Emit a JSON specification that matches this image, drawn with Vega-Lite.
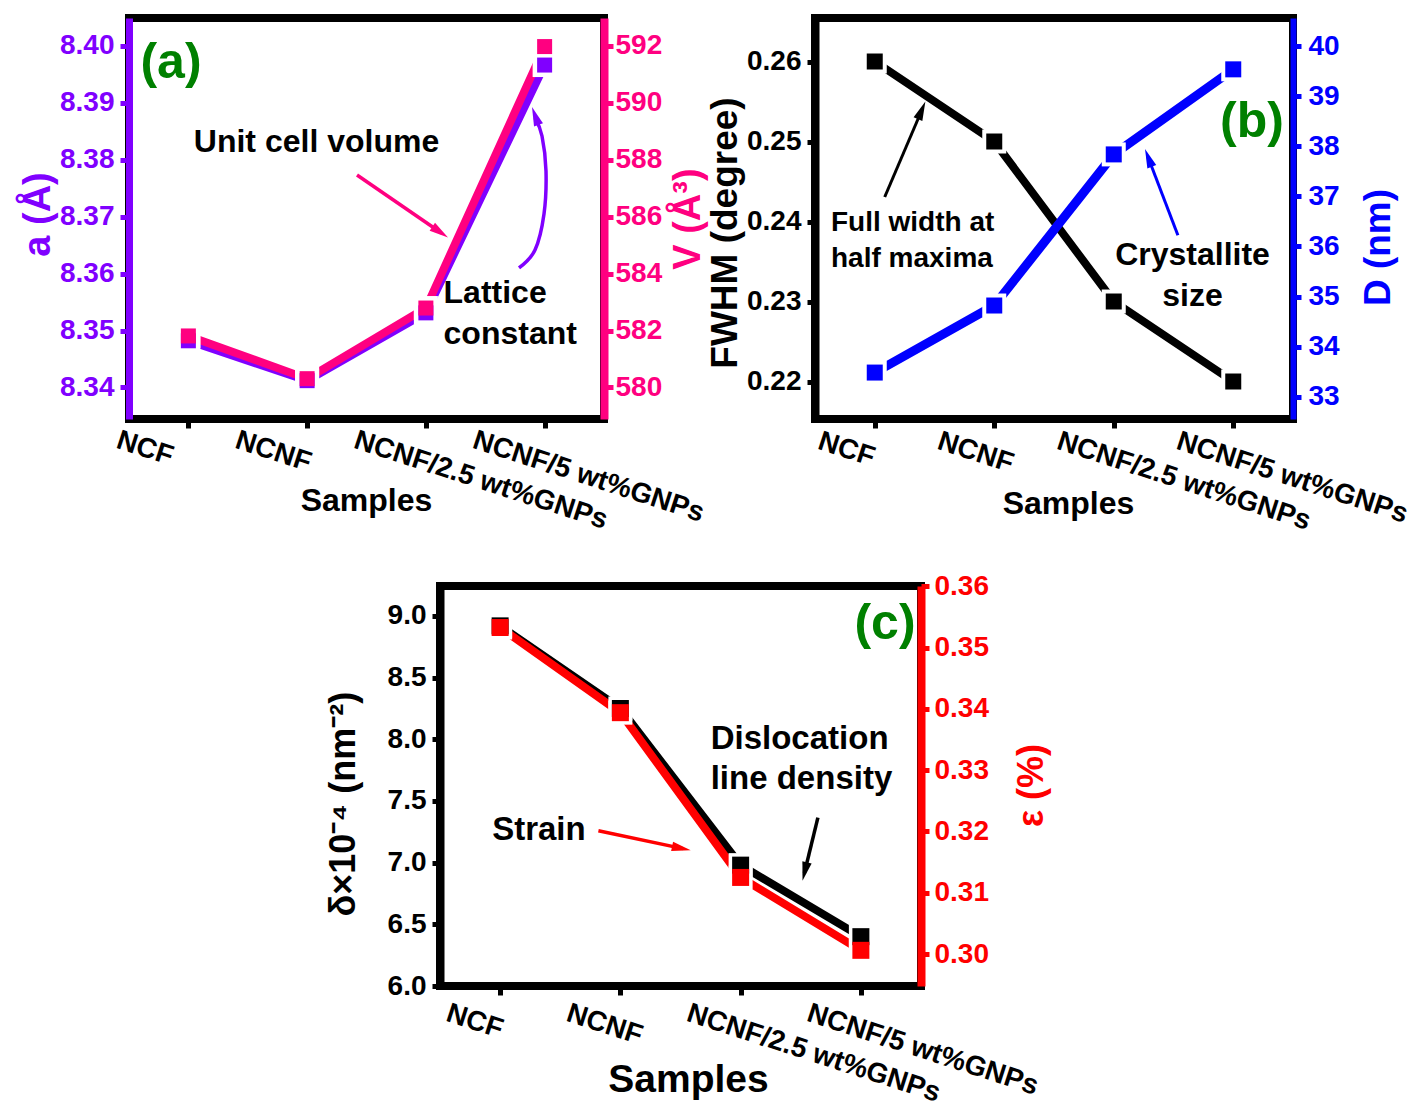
{
  "$schema": "https://vega.github.io/schema/vega-lite/v6.json",
  "background": "white",
  "padding": {"left": 15, "top": 14, "right": 5, "bottom": 5},
  "config": {
    "view": {"stroke": null},
    "font": "Liberation Sans",
    "axis": {"labelFont": "Liberation Sans", "titleFont": "Liberation Sans", "labelFontWeight": "bold", "titleFontWeight": "bold", "grid": false},
    "text": {"font": "Liberation Sans", "fontWeight": "bold"}
  },
  "datasets": {
    "pa": [
      {"sample": "NCF", "pos": 0, "a": 8.3482, "V": 581.81},
      {"sample": "NCNF", "pos": 1, "a": 8.3412, "V": 580.31},
      {"sample": "NCNF/2.5 wt%GNPs", "pos": 2, "a": 8.3531, "V": 582.79},
      {"sample": "NCNF/5 wt%GNPs", "pos": 3, "a": 8.3966, "V": 591.97}
    ],
    "pb": [
      {"sample": "NCF", "pos": 0, "FWHM": 0.26, "D": 33.48},
      {"sample": "NCNF", "pos": 1, "FWHM": 0.25, "D": 34.82},
      {"sample": "NCNF/2.5 wt%GNPs", "pos": 2, "FWHM": 0.23, "D": 37.84},
      {"sample": "NCNF/5 wt%GNPs", "pos": 3, "FWHM": 0.22, "D": 39.54}
    ],
    "pc": [
      {"sample": "NCF", "pos": 0, "delta": 8.92, "strain": 0.3533},
      {"sample": "NCNF", "pos": 1, "delta": 8.25, "strain": 0.3394},
      {"sample": "NCNF/2.5 wt%GNPs", "pos": 2, "delta": 6.98, "strain": 0.3125},
      {"sample": "NCNF/5 wt%GNPs", "pos": 3, "delta": 6.40, "strain": 0.3006}
    ],
    "curve_a": [
      {"i": 0, "x": 2.7842, "y": 8.36098},
      {"i": 1, "x": 2.9189, "y": 8.36414},
      {"i": 2, "x": 2.9947, "y": 8.37046},
      {"i": 3, "x": 3.0116, "y": 8.37801},
      {"i": 4, "x": 2.9779, "y": 8.38415},
      {"i": 5, "x": 2.9189, "y": 8.38731}
    ]
  },
  "bounds": "flush",
  "spacing": 568,
  "vconcat": [
    {
      "bounds": "flush",
      "spacing": 211,
      "hconcat": [
        {
          "width": 475,
          "height": 401,
          "view": {"stroke": "black", "strokeWidth": 8},
          "data": {"name": "pa"},
          "resolve": {"scale": {"y": "independent"}, "axis": {"y": "independent"}},
          "layer": [
            {
              "mark": {"type": "line", "color": "#8000ff", "strokeWidth": 8},
              "encoding": {
                "x": {"field": "pos", "type": "quantitative", "scale": {"domain": [-0.5, 3.5], "nice": false, "zero": false},
                  "axis": {"values": [0, 1, 2, 3], "labelExpr": "['NCF','NCNF','NCNF/2.5 wt%GNPs','NCNF/5 wt%GNPs'][datum.value]", "title": "Samples", "titleFontSize": 32, "titleX": 237, "titleY": 81, "titleAlign": "center", "titleBaseline": "middle", "titleColor": "black", "labelAngle": 18, "labelAlign": "left", "labelBaseline": "top", "labelOffset": -67, "labelPadding": -2, "labelLimit": 0, "labelFontSize": 28, "labelColor": "black", "labelFlush": false, "labelOverlap": false, "labelBound": false, "tickSize": 9, "tickWidth": 5, "tickColor": "black", "domain": false}},
                "y": {"field": "a", "type": "quantitative", "scale": {"domain": [8.33447, 8.40486], "nice": false, "zero": false},
                  "axis": {"orient": "left", "values": [8.34, 8.35, 8.36, 8.37, 8.38, 8.39, 8.40], "format": ".2f", "title": "a (Å)", "titleFontSize": 38, "titleX": -90.6, "titleY": 196, "titleAngle": 270, "titleAlign": "center", "titleBaseline": "middle", "titleColor": "#8000ff", "labelColor": "#8000ff", "labelFontSize": 28, "labelPadding": 6, "tickColor": "#8000ff", "tickSize": 9, "tickWidth": 5, "domainColor": "#8000ff", "domainWidth": 7}}
              }
            },
            {
              "mark": {"type": "line", "color": "#ff0080", "strokeWidth": 8},
              "encoding": {
                "x": {"field": "pos", "type": "quantitative", "scale": {"domain": [-0.5, 3.5], "nice": false, "zero": false}},
                "y": {"field": "V", "type": "quantitative", "scale": {"domain": [578.894, 592.973], "nice": false, "zero": false},
                  "axis": {"orient": "right", "values": [580, 582, 584, 586, 588, 590, 592], "format": "d", "title": "V (Å³)", "titleFontSize": 38, "titleX": 84, "titleY": 200.6, "titleAngle": 270, "titleAlign": "center", "titleBaseline": "middle", "titleColor": "#ff0080", "labelColor": "#ff0080", "labelFontSize": 28, "labelPadding": 2, "tickColor": "#ff0080", "tickSize": 9, "tickWidth": 5, "domainColor": "#ff0080", "domainWidth": 8}}
              }
            },
            {
              "mark": {"type": "point", "shape": "square", "filled": true, "opacity": 1, "color": "white", "size": 576},
              "encoding": {
                "x": {"field": "pos", "type": "quantitative", "scale": {"domain": [-0.5, 3.5], "nice": false, "zero": false}},
                "y": {"field": "a", "type": "quantitative", "scale": {"domain": [8.33447, 8.40486], "nice": false, "zero": false}, "axis": null}
              }
            },
            {
              "mark": {"type": "point", "shape": "square", "filled": true, "opacity": 1, "color": "white", "size": 576},
              "encoding": {
                "x": {"field": "pos", "type": "quantitative", "scale": {"domain": [-0.5, 3.5], "nice": false, "zero": false}},
                "y": {"field": "V", "type": "quantitative", "scale": {"domain": [578.894, 592.973], "nice": false, "zero": false}, "axis": null}
              }
            },
            {
              "mark": {"type": "point", "shape": "square", "filled": true, "opacity": 1, "color": "#8000ff", "size": 225},
              "encoding": {
                "x": {"field": "pos", "type": "quantitative", "scale": {"domain": [-0.5, 3.5], "nice": false, "zero": false}},
                "y": {"field": "a", "type": "quantitative", "scale": {"domain": [8.33447, 8.40486], "nice": false, "zero": false}, "axis": null}
              }
            },
            {
              "mark": {"type": "point", "shape": "square", "filled": true, "opacity": 1, "color": "#ff0080", "size": 225},
              "encoding": {
                "x": {"field": "pos", "type": "quantitative", "scale": {"domain": [-0.5, 3.5], "nice": false, "zero": false}},
                "y": {"field": "V", "type": "quantitative", "scale": {"domain": [578.894, 592.973], "nice": false, "zero": false}, "axis": null}
              }
            },
            {
              "data": {"values": [{}]},
              "mark": {"type": "text", "text": "(a)", "color": "#008000", "fontSize": 50, "align": "center", "baseline": "middle"},
              "encoding": {
                "x": {"datum": -0.1463, "type": "quantitative", "scale": {"domain": [-0.5, 3.5], "nice": false, "zero": false}},
                "y": {"datum": 8.39696, "type": "quantitative", "scale": {"domain": [8.33447, 8.40486], "nice": false, "zero": false}, "axis": null}
              }
            },
            {
              "data": {"values": [{}]},
              "mark": {"type": "text", "text": "Unit cell volume", "color": "black", "fontSize": 32, "align": "center", "baseline": "middle"},
              "encoding": {
                "x": {"datum": 1.0789, "type": "quantitative", "scale": {"domain": [-0.5, 3.5], "nice": false, "zero": false}},
                "y": {"datum": 8.3831, "type": "quantitative", "scale": {"domain": [8.33447, 8.40486], "nice": false, "zero": false}, "axis": null}
              }
            },
            {
              "data": {"values": [{}]},
              "mark": {"type": "text", "text": ["Lattice", "constant"], "lineHeight": 41, "color": "black", "fontSize": 32, "align": "left", "baseline": "middle"},
              "encoding": {
                "x": {"datum": 2.149, "type": "quantitative", "scale": {"domain": [-0.5, 3.5], "nice": false, "zero": false}},
                "y": {"datum": 8.35659, "type": "quantitative", "scale": {"domain": [8.33447, 8.40486], "nice": false, "zero": false}, "axis": null}
              }
            },
            {
              "data": {"values": [{}]},
              "mark": {"type": "rule", "color": "#ff0080", "strokeWidth": 3.5},
              "encoding": {
                "x": {"datum": 1.42, "type": "quantitative", "scale": {"domain": [-0.5, 3.5], "nice": false, "zero": false}},
                "x2": {"datum": 2.1307},
                "y": {"datum": 8.3773, "type": "quantitative", "scale": {"domain": [8.33447, 8.40486], "nice": false, "zero": false}, "axis": null},
                "y2": {"datum": 8.36712}
              }
            },
            {
              "data": {"values": [{}]},
              "mark": {"type": "point", "shape": "M0,0L-0.5,2L0.5,2Z", "filled": true, "opacity": 1, "color": "#ff0080", "size": 361, "angle": 124.5},
              "encoding": {
                "x": {"datum": 2.1863, "type": "quantitative", "scale": {"domain": [-0.5, 3.5], "nice": false, "zero": false}},
                "y": {"datum": 8.36633, "type": "quantitative", "scale": {"domain": [8.33447, 8.40486], "nice": false, "zero": false}, "axis": null}
              }
            },
            {
              "data": {"name": "curve_a"},
              "mark": {"type": "line", "color": "#8000ff", "strokeWidth": 3.5, "interpolate": "cardinal"},
              "encoding": {
                "x": {"field": "x", "type": "quantitative", "scale": {"domain": [-0.5, 3.5], "nice": false, "zero": false}},
                "y": {"field": "y", "type": "quantitative", "scale": {"domain": [8.33447, 8.40486], "nice": false, "zero": false}, "axis": null},
                "order": {"field": "i", "type": "quantitative"}
              }
            },
            {
              "data": {"values": [{}]},
              "mark": {"type": "point", "shape": "M0,0L-0.5,2L0.5,2Z", "filled": true, "opacity": 1, "color": "#8000ff", "size": 361, "angle": -20},
              "encoding": {
                "x": {"datum": 2.8937, "type": "quantitative", "scale": {"domain": [-0.5, 3.5], "nice": false, "zero": false}},
                "y": {"datum": 8.38924, "type": "quantitative", "scale": {"domain": [8.33447, 8.40486], "nice": false, "zero": false}, "axis": null}
              }
            }
          ]
        },
        {
          "width": 478,
          "height": 401,
          "view": {"stroke": "black", "strokeWidth": 8},
          "data": {"name": "pb"},
          "resolve": {"scale": {"y": "independent"}, "axis": {"y": "independent"}},
          "layer": [
            {
              "mark": {"type": "line", "color": "black", "strokeWidth": 8},
              "encoding": {
                "x": {"field": "pos", "type": "quantitative", "scale": {"domain": [-0.5, 3.5], "nice": false, "zero": false},
                  "axis": {"values": [0, 1, 2, 3], "labelExpr": "['NCF','NCNF','NCNF/2.5 wt%GNPs','NCNF/5 wt%GNPs'][datum.value]", "title": "Samples", "titleFontSize": 32, "titleX": 253, "titleY": 84, "titleAlign": "center", "titleBaseline": "middle", "titleColor": "black", "labelAngle": 18, "labelAlign": "left", "labelBaseline": "top", "labelOffset": -52, "labelPadding": -1, "labelLimit": 0, "labelFontSize": 28, "labelColor": "black", "labelFlush": false, "labelOverlap": false, "labelBound": false, "tickSize": 9, "tickWidth": 5, "tickColor": "black", "domain": false}},
                "y": {"field": "FWHM", "type": "quantitative", "scale": {"domain": [0.215313, 0.265438], "nice": false, "zero": false},
                  "axis": {"orient": "left", "values": [0.22, 0.23, 0.24, 0.25, 0.26], "format": ".2f", "title": "FWHM (degree)", "titleFontSize": 37, "titleX": -90, "titleY": 214.5, "titleAngle": 270, "titleAlign": "center", "titleBaseline": "middle", "titleColor": "black", "labelColor": "black", "labelFontSize": 28, "labelPadding": 6, "tickColor": "black", "tickSize": 8, "tickWidth": 5, "domainColor": "black", "domainWidth": 8}}
              }
            },
            {
              "mark": {"type": "line", "color": "#0000ff", "strokeWidth": 9},
              "encoding": {
                "x": {"field": "pos", "type": "quantitative", "scale": {"domain": [-0.5, 3.5], "nice": false, "zero": false}},
                "y": {"field": "D", "type": "quantitative", "scale": {"domain": [32.552, 40.566], "nice": false, "zero": false},
                  "axis": {"orient": "right", "values": [33, 34, 35, 36, 37, 38, 39, 40], "format": "d", "title": "D (nm)", "titleFontSize": 37, "titleX": 85, "titleY": 229, "titleAngle": 270, "titleAlign": "center", "titleBaseline": "middle", "titleColor": "#0000ff", "labelColor": "#0000ff", "labelFontSize": 28, "labelPadding": 7, "tickColor": "#0000ff", "tickSize": 8, "tickWidth": 5, "domainColor": "#0000ff", "domainWidth": 6}}
              }
            },
            {
              "mark": {"type": "point", "shape": "square", "filled": true, "opacity": 1, "color": "white", "size": 576},
              "encoding": {
                "x": {"field": "pos", "type": "quantitative", "scale": {"domain": [-0.5, 3.5], "nice": false, "zero": false}},
                "y": {"field": "FWHM", "type": "quantitative", "scale": {"domain": [0.215313, 0.265438], "nice": false, "zero": false}, "axis": null}
              }
            },
            {
              "mark": {"type": "point", "shape": "square", "filled": true, "opacity": 1, "color": "white", "size": 576},
              "encoding": {
                "x": {"field": "pos", "type": "quantitative", "scale": {"domain": [-0.5, 3.5], "nice": false, "zero": false}},
                "y": {"field": "D", "type": "quantitative", "scale": {"domain": [32.552, 40.566], "nice": false, "zero": false}, "axis": null}
              }
            },
            {
              "mark": {"type": "point", "shape": "square", "filled": true, "opacity": 1, "color": "black", "size": 256},
              "encoding": {
                "x": {"field": "pos", "type": "quantitative", "scale": {"domain": [-0.5, 3.5], "nice": false, "zero": false}},
                "y": {"field": "FWHM", "type": "quantitative", "scale": {"domain": [0.215313, 0.265438], "nice": false, "zero": false}, "axis": null}
              }
            },
            {
              "mark": {"type": "point", "shape": "square", "filled": true, "opacity": 1, "color": "#0000ff", "size": 256},
              "encoding": {
                "x": {"field": "pos", "type": "quantitative", "scale": {"domain": [-0.5, 3.5], "nice": false, "zero": false}},
                "y": {"field": "D", "type": "quantitative", "scale": {"domain": [32.552, 40.566], "nice": false, "zero": false}, "axis": null}
              }
            },
            {
              "data": {"values": [{}]},
              "mark": {"type": "text", "text": "(b)", "color": "#008000", "fontSize": 50, "align": "center", "baseline": "middle"},
              "encoding": {
                "x": {"datum": 3.1569, "type": "quantitative", "scale": {"domain": [-0.5, 3.5], "nice": false, "zero": false}},
                "y": {"datum": 0.25244, "type": "quantitative", "scale": {"domain": [0.215313, 0.265438], "nice": false, "zero": false}, "axis": null}
              }
            },
            {
              "data": {"values": [{}]},
              "mark": {"type": "text", "text": ["Full width at", "half maxima"], "lineHeight": 36, "color": "black", "fontSize": 28, "align": "left", "baseline": "middle"},
              "encoding": {
                "x": {"datum": -0.3661, "type": "quantitative", "scale": {"domain": [-0.5, 3.5], "nice": false, "zero": false}},
                "y": {"datum": 0.23985, "type": "quantitative", "scale": {"domain": [0.215313, 0.265438], "nice": false, "zero": false}, "axis": null}
              }
            },
            {
              "data": {"values": [{}]},
              "mark": {"type": "text", "text": ["Crystallite", "size"], "lineHeight": 41, "color": "black", "fontSize": 32, "align": "center", "baseline": "middle"},
              "encoding": {
                "x": {"datum": 2.659, "type": "quantitative", "scale": {"domain": [-0.5, 3.5], "nice": false, "zero": false}},
                "y": {"datum": 0.235838, "type": "quantitative", "scale": {"domain": [0.215313, 0.265438], "nice": false, "zero": false}, "axis": null}
              }
            },
            {
              "data": {"values": [{}]},
              "mark": {"type": "rule", "color": "black", "strokeWidth": 3},
              "encoding": {
                "x": {"datum": 0.0833, "type": "quantitative", "scale": {"domain": [-0.5, 3.5], "nice": false, "zero": false}},
                "x2": {"datum": 0.3979},
                "y": {"datum": 0.24306, "type": "quantitative", "scale": {"domain": [0.215313, 0.265438], "nice": false, "zero": false}, "axis": null},
                "y2": {"datum": 0.25406}
              }
            },
            {
              "data": {"values": [{}]},
              "mark": {"type": "point", "shape": "M0,0L-0.5,2L0.5,2Z", "filled": true, "opacity": 1, "color": "black", "size": 361, "angle": 23},
              "encoding": {
                "x": {"datum": 0.4238, "type": "quantitative", "scale": {"domain": [-0.5, 3.5], "nice": false, "zero": false}},
                "y": {"datum": 0.25499, "type": "quantitative", "scale": {"domain": [0.215313, 0.265438], "nice": false, "zero": false}, "axis": null}
              }
            },
            {
              "data": {"values": [{}]},
              "mark": {"type": "rule", "color": "#0000ff", "strokeWidth": 3},
              "encoding": {
                "x": {"datum": 2.5368, "type": "quantitative", "scale": {"domain": [-0.5, 3.5], "nice": false, "zero": false}},
                "x2": {"datum": 2.2849},
                "y": {"datum": 0.23829, "type": "quantitative", "scale": {"domain": [0.215313, 0.265438], "nice": false, "zero": false}, "axis": null},
                "y2": {"datum": 0.24813}
              }
            },
            {
              "data": {"values": [{}]},
              "mark": {"type": "point", "shape": "M0,0L-0.5,2L0.5,2Z", "filled": true, "opacity": 1, "color": "#0000ff", "size": 361, "angle": -21},
              "encoding": {
                "x": {"datum": 2.2615, "type": "quantitative", "scale": {"domain": [-0.5, 3.5], "nice": false, "zero": false}},
                "y": {"datum": 0.24906, "type": "quantitative", "scale": {"domain": [0.215313, 0.265438], "nice": false, "zero": false}, "axis": null}
              }
            }
          ]
        }
      ]
    },
    {
      "bounds": "flush",
      "spacing": 211,
      "hconcat": [
        {
          "width": 100,
          "height": 10,
          "data": {"values": [{}]},
          "mark": {"type": "point", "opacity": 0}
        },
        {
          "width": 481,
          "height": 400,
          "view": {"stroke": "black", "strokeWidth": 8},
          "data": {"name": "pc"},
          "resolve": {"scale": {"y": "independent"}, "axis": {"y": "independent"}},
          "layer": [
            {
              "mark": {"type": "line", "color": "black", "strokeWidth": 8},
              "encoding": {
                "x": {"field": "pos", "type": "quantitative", "scale": {"domain": [-0.5, 3.5], "nice": false, "zero": false},
                  "axis": {"values": [0, 1, 2, 3], "labelExpr": "['NCF','NCNF','NCNF/2.5 wt%GNPs','NCNF/5 wt%GNPs'][datum.value]", "title": "Samples", "titleFontSize": 39, "titleX": 248, "titleY": 93, "titleAlign": "center", "titleBaseline": "middle", "titleColor": "black", "labelAngle": 18, "labelAlign": "left", "labelBaseline": "top", "labelOffset": -49, "labelPadding": 4, "labelLimit": 0, "labelFontSize": 28, "labelColor": "black", "labelFlush": false, "labelOverlap": false, "labelBound": false, "tickSize": 9, "tickWidth": 5, "tickColor": "black", "domain": false}},
                "y": {"field": "delta", "type": "quantitative", "scale": {"domain": [6.0, 9.2432], "nice": false, "zero": false},
                  "axis": {"orient": "left", "values": [6.0, 6.5, 7.0, 7.5, 8.0, 8.5, 9.0], "format": ".1f", "title": "δ×10⁻⁴ (nm⁻²)", "titleFontSize": 36, "titleX": -97, "titleY": 217.7, "titleAngle": 270, "titleAlign": "center", "titleBaseline": "middle", "titleColor": "black", "labelColor": "black", "labelFontSize": 28, "labelPadding": 6, "tickColor": "black", "tickSize": 8, "tickWidth": 5, "domainColor": "black", "domainWidth": 8}}
              }
            },
            {
              "mark": {"type": "line", "color": "#ff0000", "strokeWidth": 8},
              "encoding": {
                "x": {"field": "pos", "type": "quantitative", "scale": {"domain": [-0.5, 3.5], "nice": false, "zero": false}},
                "y": {"field": "strain", "type": "quantitative", "scale": {"domain": [0.294776, 0.36008], "nice": false, "zero": false},
                  "axis": {"orient": "right", "values": [0.30, 0.31, 0.32, 0.33, 0.34, 0.35, 0.36], "format": ".2f", "title": "ε (%)", "titleFontSize": 36, "titleX": 110.7, "titleY": 199, "titleAngle": 270, "titleAlign": "center", "titleBaseline": "middle", "titleColor": "#ff0000", "labelColor": "#ff0000", "labelFontSize": 28, "labelPadding": 5, "tickColor": "#ff0000", "tickSize": 8, "tickWidth": 5, "domainColor": "#ff0000", "domainWidth": 8}}
              }
            },
            {
              "mark": {"type": "point", "shape": "square", "filled": true, "opacity": 1, "color": "white", "size": 576},
              "encoding": {
                "x": {"field": "pos", "type": "quantitative", "scale": {"domain": [-0.5, 3.5], "nice": false, "zero": false}},
                "y": {"field": "delta", "type": "quantitative", "scale": {"domain": [6.0, 9.2432], "nice": false, "zero": false}, "axis": null}
              }
            },
            {
              "mark": {"type": "point", "shape": "square", "filled": true, "opacity": 1, "color": "white", "size": 576},
              "encoding": {
                "x": {"field": "pos", "type": "quantitative", "scale": {"domain": [-0.5, 3.5], "nice": false, "zero": false}},
                "y": {"field": "strain", "type": "quantitative", "scale": {"domain": [0.294776, 0.36008], "nice": false, "zero": false}, "axis": null}
              }
            },
            {
              "mark": {"type": "point", "shape": "square", "filled": true, "opacity": 1, "color": "black", "size": 289},
              "encoding": {
                "x": {"field": "pos", "type": "quantitative", "scale": {"domain": [-0.5, 3.5], "nice": false, "zero": false}},
                "y": {"field": "delta", "type": "quantitative", "scale": {"domain": [6.0, 9.2432], "nice": false, "zero": false}, "axis": null}
              }
            },
            {
              "mark": {"type": "point", "shape": "square", "filled": true, "opacity": 1, "color": "#ff0000", "size": 289},
              "encoding": {
                "x": {"field": "pos", "type": "quantitative", "scale": {"domain": [-0.5, 3.5], "nice": false, "zero": false}},
                "y": {"field": "strain", "type": "quantitative", "scale": {"domain": [0.294776, 0.36008], "nice": false, "zero": false}, "axis": null}
              }
            },
            {
              "data": {"values": [{}]},
              "mark": {"type": "text", "text": "(c)", "color": "#008000", "fontSize": 50, "align": "center", "baseline": "middle"},
              "encoding": {
                "x": {"datum": 3.2006, "type": "quantitative", "scale": {"domain": [-0.5, 3.5], "nice": false, "zero": false}},
                "y": {"datum": 8.9351, "type": "quantitative", "scale": {"domain": [6.0, 9.2432], "nice": false, "zero": false}, "axis": null}
              }
            },
            {
              "data": {"values": [{}]},
              "mark": {"type": "text", "text": ["Dislocation", "line density"], "lineHeight": 40, "color": "black", "fontSize": 33, "align": "left", "baseline": "middle"},
              "encoding": {
                "x": {"datum": 1.7511, "type": "quantitative", "scale": {"domain": [-0.5, 3.5], "nice": false, "zero": false}},
                "y": {"datum": 8.0043, "type": "quantitative", "scale": {"domain": [6.0, 9.2432], "nice": false, "zero": false}, "axis": null}
              }
            },
            {
              "data": {"values": [{}]},
              "mark": {"type": "text", "text": "Strain", "color": "black", "fontSize": 33, "align": "center", "baseline": "middle"},
              "encoding": {
                "x": {"datum": 0.3224, "type": "quantitative", "scale": {"domain": [-0.5, 3.5], "nice": false, "zero": false}},
                "y": {"datum": 7.2648, "type": "quantitative", "scale": {"domain": [6.0, 9.2432], "nice": false, "zero": false}, "axis": null}
              }
            },
            {
              "data": {"values": [{}]},
              "mark": {"type": "rule", "color": "#ff0000", "strokeWidth": 3.5},
              "encoding": {
                "x": {"datum": 0.8173, "type": "quantitative", "scale": {"domain": [-0.5, 3.5], "nice": false, "zero": false}},
                "x2": {"datum": 1.52},
                "y": {"datum": 7.2592, "type": "quantitative", "scale": {"domain": [6.0, 9.2432], "nice": false, "zero": false}, "axis": null},
                "y2": {"datum": 7.114}
              }
            },
            {
              "data": {"values": [{}]},
              "mark": {"type": "point", "shape": "M0,0L-0.5,2L0.5,2Z", "filled": true, "opacity": 1, "color": "#ff0000", "size": 361, "angle": 102},
              "encoding": {
                "x": {"datum": 1.5848, "type": "quantitative", "scale": {"domain": [-0.5, 3.5], "nice": false, "zero": false}},
                "y": {"datum": 7.1002, "type": "quantitative", "scale": {"domain": [6.0, 9.2432], "nice": false, "zero": false}, "axis": null}
              }
            },
            {
              "data": {"values": [{}]},
              "mark": {"type": "rule", "color": "black", "strokeWidth": 3.5},
              "encoding": {
                "x": {"datum": 2.6426, "type": "quantitative", "scale": {"domain": [-0.5, 3.5], "nice": false, "zero": false}},
                "x2": {"datum": 2.5304},
                "y": {"datum": 7.3645, "type": "quantitative", "scale": {"domain": [6.0, 9.2432], "nice": false, "zero": false}, "axis": null},
                "y2": {"datum": 6.9162}
              }
            },
            {
              "data": {"values": [{}]},
              "mark": {"type": "point", "shape": "M0,0L-0.5,2L0.5,2Z", "filled": true, "opacity": 1, "color": "black", "size": 361, "angle": 193.7},
              "encoding": {
                "x": {"datum": 2.5146, "type": "quantitative", "scale": {"domain": [-0.5, 3.5], "nice": false, "zero": false}},
                "y": {"datum": 6.8529, "type": "quantitative", "scale": {"domain": [6.0, 9.2432], "nice": false, "zero": false}, "axis": null}
              }
            }
          ]
        }
      ]
    }
  ]
}
